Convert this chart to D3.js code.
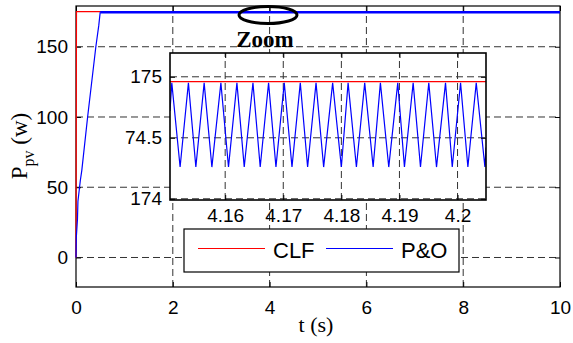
<!DOCTYPE html>
<html>
<head>
<meta charset="utf-8">
<script src="https://cdn.jsdelivr.net/npm/d3@7"></script>
<style>
  body { margin: 0; background: #fff; }
  svg { display: block; }
  .tick text { font-family: "Liberation Sans", Arial, sans-serif; fill: #000; }
  .grid line { stroke: #333; stroke-width: 1; stroke-dasharray: 7,4; }
</style>
</head>
<body>
<svg id="chart" width="573" height="343"></svg>
<script>
// main plot data
const clfT = [0, 0.01, 10];
const clfP = [0, 174.96, 174.96];
const poT = [0, 0.006, 0.03, 0.04, 0.09, 0.12, 0.24, 0.41, 0.47, 0.5];
const poP = [0, 14, 27, 40, 55, 62, 100, 150, 165, 174.6];
const poSteadyT = [0.5, 10];
const poSteadyP = [174.6, 174.6];

const xTicks = [0, 2, 4, 6, 8, 10];
const yTicks = [0, 50, 100, 150];

// zoomed window (4.15 .. 4.205 s)
const zoomClfT = [4.1505, 4.2049];
const zoomClfP = [174.96, 174.96];
const zoomPoT = [4.1505, 4.15081, 4.15224, 4.15367, 4.15495, 4.15638, 4.15771, 4.15926, 4.16057,
  4.16202, 4.16328, 4.16478, 4.16603, 4.16747, 4.16874, 4.17017, 4.1715, 4.17293, 4.17419,
  4.17564, 4.17695, 4.1785, 4.18, 4.18116, 4.18259, 4.18402, 4.18547, 4.18672, 4.18816,
  4.18971, 4.19086, 4.19236, 4.19362, 4.19505, 4.19638, 4.19793, 4.19909, 4.20052, 4.20178,
  4.20322, 4.20471, 4.2049];
const zoomPoP = [174.72, 174.95, 174.26, 174.95, 174.26, 174.95, 174.26, 174.95, 174.26,
  174.95, 174.26, 174.95, 174.26, 174.95, 174.26, 174.95, 174.26, 174.95, 174.26,
  174.95, 174.26, 174.95, 174.26, 174.95, 174.26, 174.95, 174.26, 174.95, 174.26,
  174.95, 174.26, 174.95, 174.26, 174.95, 174.26, 174.95, 174.26, 174.95, 174.26,
  174.95, 174.26, 174.42];
const zoomXTicks = [4.16, 4.17, 4.18, 4.19, 4.2];
const zoomYTicks = [174, 174.5, 175];
const zoomYLabels = ["174", "74.5", "175"];

const legendNames = ["CLF", "P&O"];
const seriesColors = ["#ff0000", "#0000ff"];

const svg = d3.select("#chart");

const x = d3.scaleLinear().domain([0, 10]).range([76, 560]);
const y = d3.scaleLinear().domain([-21, 179]).range([287, 6]);

// main grid
const grid = svg.append("g").attr("class", "grid");
grid.selectAll("line.v")
  .data(xTicks.slice(1, -1))
  .join("line")
  .attr("class", "v")
  .attr("x1", d => x(d)).attr("x2", d => x(d))
  .attr("y1", y.range()[0]).attr("y2", y.range()[1]);
grid.selectAll("line.h")
  .data(yTicks)
  .join("line")
  .attr("class", "h")
  .attr("x1", x.range()[0]).attr("x2", x.range()[1])
  .attr("y1", d => y(d)).attr("y2", d => y(d));

// main axes
const axB = svg.append("g")
  .attr("transform", `translate(0,${y.range()[0]})`)
  .call(d3.axisBottom(x).tickValues(xTicks).tickSize(-5).tickPadding(14).tickSizeOuter(0));
const axL = svg.append("g")
  .attr("transform", `translate(${x.range()[0]},0)`)
  .call(d3.axisLeft(y).tickValues(yTicks).tickSize(-5).tickPadding(8).tickSizeOuter(0));
svg.append("g")
  .attr("transform", `translate(0,${y.range()[1]})`)
  .call(d3.axisTop(x).tickValues(xTicks).tickSize(-5).tickFormat("").tickSizeOuter(0));
svg.append("g")
  .attr("transform", `translate(${x.range()[1]},0)`)
  .call(d3.axisRight(y).tickValues(yTicks).tickSize(-5).tickFormat("").tickSizeOuter(0));
svg.selectAll(".domain").remove();
svg.selectAll(".tick line").attr("stroke", "#000");
[axB, axL].forEach(a => a.selectAll("text").style("font-size", "19px"));

svg.append("rect")
  .attr("x", x.range()[0]).attr("y", y.range()[1])
  .attr("width", x.range()[1] - x.range()[0])
  .attr("height", y.range()[0] - y.range()[1])
  .attr("fill", "none").attr("stroke", "#000").attr("stroke-width", 1.2);

const line = d3.line().x(d => x(d[0])).y(d => y(d[1]));
svg.append("path")
  .datum(d3.zip(clfT, clfP))
  .attr("fill", "none").attr("stroke", seriesColors[0]).attr("stroke-width", 1.2)
  .attr("d", line);
svg.append("path")
  .datum(d3.zip(poT, poP))
  .attr("fill", "none").attr("stroke", seriesColors[1]).attr("stroke-width", 1.2)
  .attr("d", line);
svg.append("path")
  .datum(d3.zip(poSteadyT, poSteadyP))
  .attr("fill", "none").attr("stroke", seriesColors[1]).attr("stroke-width", 2.6)
  .attr("d", line);

// zoomed inset
const ix = d3.scaleLinear().domain([4.1505, 4.2049]).range([170, 486]);
const iy = d3.scaleLinear().domain([173.99, 175.195]).range([200, 53]);

const inset = svg.append("g");
inset.append("rect")
  .attr("x", 170).attr("y", 53).attr("width", 316).attr("height", 147)
  .attr("fill", "#fff");
svg.append("clipPath").attr("id", "insetClip")
  .append("rect").attr("x", 170).attr("y", 53).attr("width", 316).attr("height", 147);

const igrid = inset.append("g").attr("class", "grid");
igrid.selectAll("line.v")
  .data(zoomXTicks)
  .join("line")
  .attr("class", "v")
  .attr("x1", d => ix(d)).attr("x2", d => ix(d))
  .attr("y1", 200).attr("y2", 53);
igrid.selectAll("line.h")
  .data(zoomYTicks)
  .join("line")
  .attr("class", "h")
  .attr("x1", 170).attr("x2", 486)
  .attr("y1", d => iy(d)).attr("y2", d => iy(d));

const iline = d3.line().x(d => ix(d[0])).y(d => iy(d[1]));
const ilines = inset.append("g").attr("clip-path", "url(#insetClip)");
ilines.append("path")
  .datum(d3.zip(zoomClfT, zoomClfP))
  .attr("fill", "none").attr("stroke", seriesColors[0]).attr("stroke-width", 1.2)
  .attr("d", iline);
ilines.append("path")
  .datum(d3.zip(zoomPoT, zoomPoP))
  .attr("fill", "none").attr("stroke", seriesColors[1]).attr("stroke-width", 1.2)
  .attr("d", iline);

const iaxB = inset.append("g")
  .attr("transform", "translate(0,200)")
  .call(d3.axisBottom(ix).tickValues(zoomXTicks).tickSize(-5).tickPadding(9)
    .tickFormat(d3.format("~g")).tickSizeOuter(0));
const iaxL = inset.append("g")
  .attr("transform", "translate(170,0)")
  .call(d3.axisLeft(iy).tickValues(zoomYTicks).tickSize(-5).tickPadding(8)
    .tickFormat((d, i) => zoomYLabels[i]).tickSizeOuter(0));
inset.append("g")
  .attr("transform", "translate(0,53)")
  .call(d3.axisTop(ix).tickValues(zoomXTicks).tickSize(-5).tickFormat("").tickSizeOuter(0));
inset.append("g")
  .attr("transform", "translate(486,0)")
  .call(d3.axisRight(iy).tickValues(zoomYTicks).tickSize(-5).tickFormat("").tickSizeOuter(0));
inset.selectAll(".domain").remove();
inset.selectAll(".tick line").attr("stroke", "#000");
[iaxB, iaxL].forEach(a => a.selectAll("text").style("font-size", "19px"));
inset.append("rect")
  .attr("x", 170).attr("y", 53).attr("width", 316).attr("height", 147)
  .attr("fill", "none").attr("stroke", "#000").attr("stroke-width", 1.6);

// legend
const legend = svg.append("g");
legend.append("rect")
  .attr("x", 184).attr("y", 229).attr("width", 275).attr("height", 43)
  .attr("fill", "#fff").attr("stroke", "#000").attr("stroke-width", 1.2);
const legX = [198, 326];
legendNames.forEach((name, i) => {
  legend.append("line")
    .attr("x1", legX[i]).attr("x2", legX[i] + 67)
    .attr("y1", 248.5).attr("y2", 248.5)
    .attr("stroke", seriesColors[i]).attr("stroke-width", 1.2);
  legend.append("text")
    .attr("x", legX[i] + 75).attr("y", 257.5)
    .attr("font-family", "Liberation Sans, Arial, sans-serif")
    .attr("font-size", 22)
    .text(name);
});

// zoom marker
svg.append("ellipse")
  .attr("cx", 268).attr("cy", 15).attr("rx", 29).attr("ry", 8.5)
  .attr("fill", "none").attr("stroke", "#000").attr("stroke-width", 3);
svg.append("text")
  .attr("x", 265).attr("y", 46.5)
  .attr("text-anchor", "middle")
  .attr("font-family", "Liberation Serif, Times New Roman, serif")
  .attr("font-weight", "bold").attr("font-size", 23)
  .text("Zoom");

// axis titles
svg.append("text")
  .attr("x", 316).attr("y", 332)
  .attr("text-anchor", "middle")
  .attr("font-family", "Liberation Serif, Times New Roman, serif")
  .attr("font-size", 22)
  .text("t (s)");

const yl = svg.append("text")
  .attr("transform", "translate(27,146) rotate(-90)")
  .attr("text-anchor", "middle")
  .attr("font-family", "Liberation Serif, Times New Roman, serif")
  .attr("font-size", 23);
yl.append("tspan").text("P");
yl.append("tspan").attr("dy", 7).attr("font-size", 16).text("pv");
yl.append("tspan").attr("dy", -7).text(" (w)");
</script>
</body>
</html>
